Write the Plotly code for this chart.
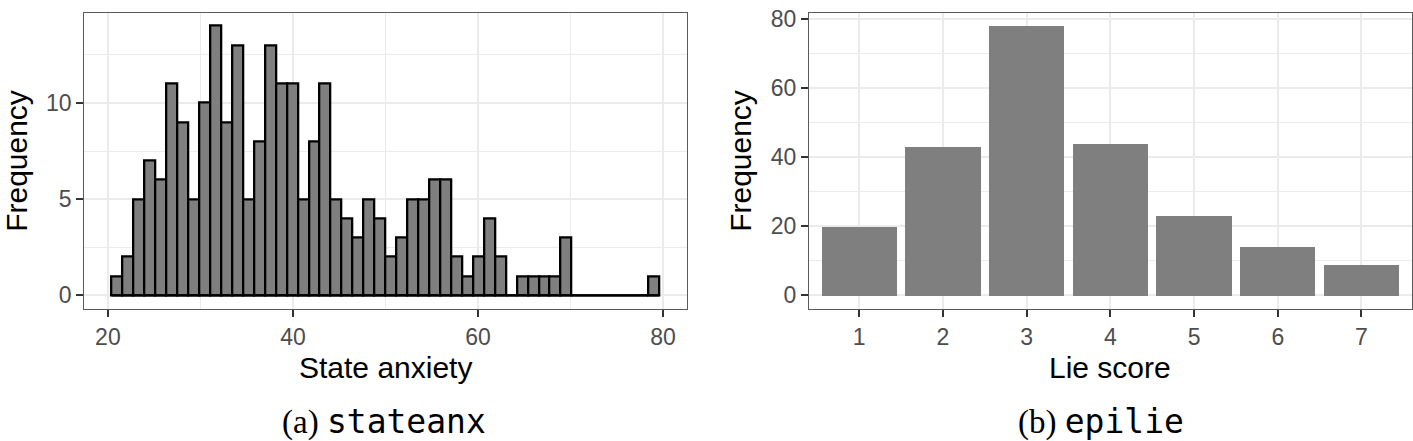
import plotly.graph_objects as go

# ---- data: (a) stateanx histogram (50 bins from data min 21 to max 79) ----
stateanx_min = 21
stateanx_max = 79
stateanx_counts = [1, 2, 5, 7, 6, 11, 9, 5, 10, 14,
                   9, 13, 5, 8, 13, 11, 11, 5, 8, 11,
                   5, 4, 3, 5, 4, 2, 3, 5, 5, 6,
                   6, 2, 1, 2, 4, 2, 0, 1, 1, 1,
                   1, 3, 0, 0, 0, 0, 0, 0, 0, 1]
stateanx_ticks = [20, 40, 60, 80]

# ---- data: (b) epilie bar chart ----
lie_scores = [1, 2, 3, 4, 5, 6, 7]
lie_freq = [20, 43, 78, 44, 23, 14, 9]

nb = len(stateanx_counts)
bw = (stateanx_max - stateanx_min) / (nb - 1)
centers = [stateanx_min + i * bw for i in range(nb)]
lo = centers[0] - bw / 2
hi = centers[-1] + bw / 2
xpad = (hi - lo) * 0.05
ymax_a = max(stateanx_counts)
ymax_b = max(lie_freq)

W, H = 1413, 441
GRID = "#EBEBEB"
TICKC = "#333333"
TICKLAB = "#4D4D4D"
BORDER = "#5a5a5a"

fig = go.Figure()
fig.add_trace(go.Bar(x=centers, y=stateanx_counts, width=[bw] * nb,
                     marker=dict(color="#7F7F7F", line=dict(color="black", width=2.3)),
                     xaxis="x", yaxis="y", showlegend=False))
fig.add_trace(go.Scatter(x=[lo, hi], y=[0, 0], mode="lines",
                         line=dict(color="black", width=2.3),
                         xaxis="x", yaxis="y", showlegend=False))
fig.add_trace(go.Bar(x=lie_scores, y=lie_freq, width=0.9,
                     marker=dict(color="#7F7F7F", line=dict(width=0)),
                     xaxis="x2", yaxis="y2", showlegend=False))

ydom = [1 - 307 / H, 1 - 6.7 / H]
common = dict(showline=True, linecolor=BORDER, linewidth=1.3, mirror=True,
              ticks="outside", ticklen=7, tickwidth=1.6, tickcolor=TICKC,
              tickfont=dict(family="Liberation Sans", size=23, color=TICKLAB),
              showgrid=True, gridcolor=GRID, gridwidth=1.6, zeroline=False)

fig.update_layout(
    width=W, height=H, margin=dict(l=0, r=0, t=0, b=0),
    paper_bgcolor="white", plot_bgcolor="white", bargap=0,
    xaxis=dict(domain=[84.3 / W, 686.7 / W], range=[lo - xpad, hi + xpad],
               tickvals=stateanx_ticks, anchor="y",
               minor=dict(showgrid=True, gridcolor=GRID, gridwidth=0.9,
                          tickvals=[30, 50, 70], ticks=""),
               **common),
    yaxis=dict(domain=ydom, range=[-ymax_a * 0.05, ymax_a * 1.05],
               tickvals=[0, 5, 10], anchor="x",
               minor=dict(showgrid=True, gridcolor=GRID, gridwidth=0.9,
                          tickvals=[2.5, 7.5, 12.5], ticks=""),
               **common),
    xaxis2=dict(domain=[809 / W, 1411.7 / W], range=[0.4, 7.6],
                tickvals=lie_scores, anchor="y2", **common),
    yaxis2=dict(domain=ydom, range=[-ymax_b * 0.05, ymax_b * 1.05],
                tickvals=[0, 20, 40, 60, 80], anchor="x2",
                minor=dict(showgrid=True, gridcolor=GRID, gridwidth=0.9,
                           tickvals=[10, 30, 50, 70], ticks=""),
                **common),
)

TF = dict(family="Liberation Sans", size=30, color="black")
ann = [
    dict(text="State anxiety", x=(84.3 + 686.7) / 2 / W, y=1 - 366 / H),
    dict(text="Lie score", x=(809 + 1411.7) / 2 / W, y=1 - 366 / H),
    dict(text="Frequency", x=17 / W, y=1 - 157 / H, textangle=-90),
    dict(text="Frequency", x=741 / W, y=1 - 157 / H, textangle=-90),
]
for a in ann:
    fig.add_annotation(xref="paper", yref="paper", showarrow=False,
                       xanchor="center", yanchor="middle", font=TF, **a)

cap = ("<span style='font-family:Liberation Serif'>({})</span> "
       "<span style='font-family:DejaVu Sans Mono'>{}</span>")
for t, cx in [(cap.format("a", "stateanx"), 384), (cap.format("b", "epilie"), 1101)]:
    fig.add_annotation(xref="paper", yref="paper", showarrow=False,
                       x=cx / W, y=1 - 421 / H, xanchor="center", yanchor="middle",
                       text=t, font=dict(family="Liberation Serif", size=33, color="black"))

fig.write_html("out.html")
